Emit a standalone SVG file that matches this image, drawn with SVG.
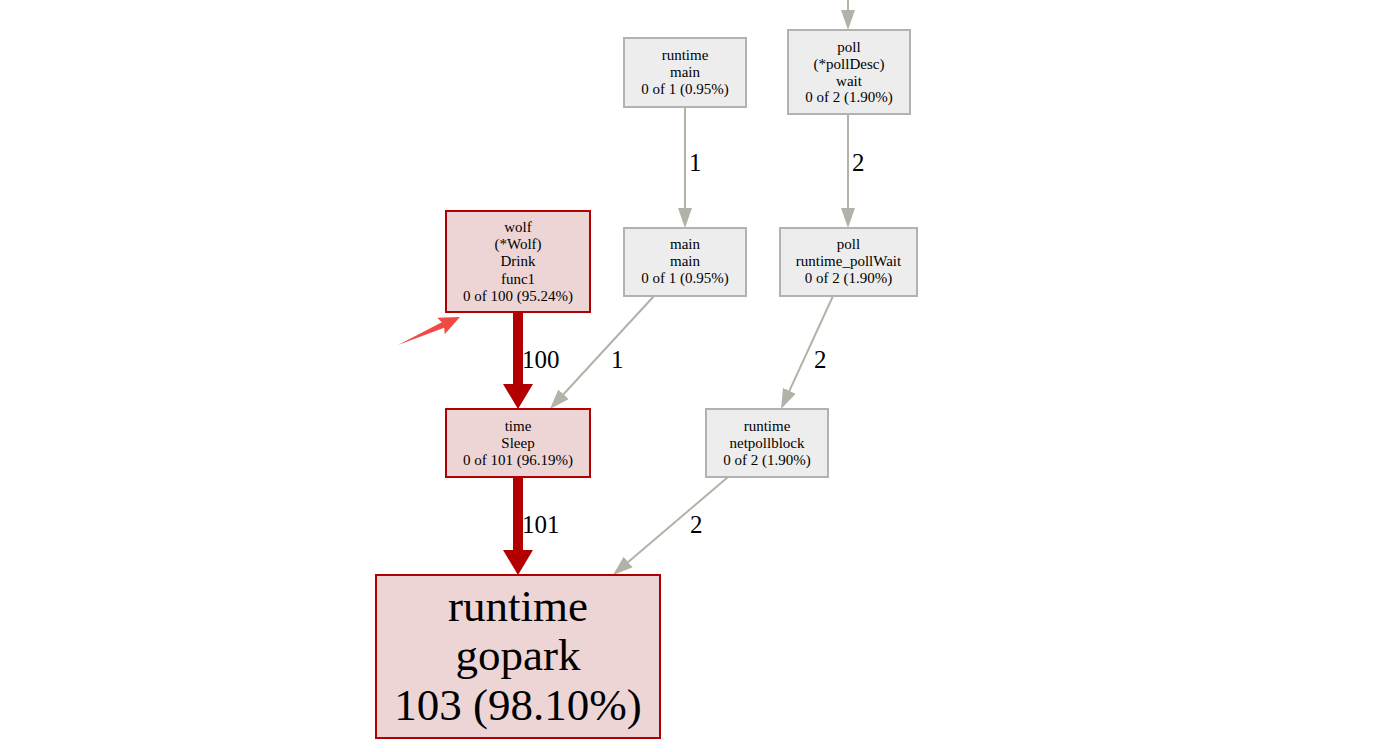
<svg xmlns="http://www.w3.org/2000/svg" width="1400" height="752" viewBox="0 0 1400 752">
<style>
text{font-family:"Liberation Serif","Times New Roman",serif;fill:#000}
.n{font-size:15px;text-anchor:middle}
.big{font-size:45px;text-anchor:middle}
.el{font-size:25px}
.gbox{fill:#ededed;stroke:#b2b2b2;stroke-width:2}
.rbox{fill:#edd5d5;stroke:#b20000;stroke-width:2}
.ge{stroke:#b2b2a8;stroke-width:2;fill:none}
.re{stroke:#b20000;stroke-width:10;fill:none}
</style>
<defs>
<marker id="ga" markerUnits="userSpaceOnUse" markerWidth="20" markerHeight="14" refX="0" refY="7" orient="auto" viewBox="0 0 20 14"><path d="M0,0 L20,7 L0,14 z" fill="#b2b2a8"/></marker>
<marker id="ra" markerUnits="userSpaceOnUse" markerWidth="25" markerHeight="30" refX="0" refY="15" orient="auto" viewBox="0 0 25 30"><path d="M0,0 L25,15 L0,30 z" fill="#b20000"/></marker>
</defs>
<rect width="1400" height="752" fill="#fff"/>
<g id="connectors">
<line class="ge" x1="848" y1="0" x2="848" y2="10" marker-end="url(#ga)"/>
<line class="ge" x1="685" y1="107" x2="685" y2="208" marker-end="url(#ga)"/>
<text class="el" x="689" y="171">1</text>
<line class="ge" x1="848" y1="114" x2="848" y2="208" marker-end="url(#ga)"/>
<text class="el" x="852" y="171">2</text>
<line class="re" x1="518" y1="312" x2="518" y2="384" marker-end="url(#ra)"/>
<text class="el" x="522" y="368">100</text>
<line class="ge" x1="654" y1="296" x2="563.5" y2="394.3" marker-end="url(#ga)"/>
<text class="el" x="611" y="368">1</text>
<line class="ge" x1="833" y1="296" x2="789.4" y2="390.8" marker-end="url(#ga)"/>
<text class="el" x="814" y="368">2</text>
<line class="re" x1="518" y1="477" x2="518" y2="550" marker-end="url(#ra)"/>
<text class="el" x="522" y="533">101</text>
<line class="ge" x1="728" y1="477" x2="628.2" y2="562" marker-end="url(#ga)"/>
<text class="el" x="690" y="533">2</text>
</g>
<g id="node-runtime-main">
<rect class="gbox" x="624" y="38" width="122" height="69"/>
<text class="n" x="685" y="60">runtime</text>
<text class="n" x="685" y="77">main</text>
<text class="n" x="685" y="94">0 of 1 (0.95%)</text>
</g>
<g id="node-poll-wait">
<rect class="gbox" x="788" y="30" width="122" height="84"/>
<text class="n" x="849" y="52">poll</text>
<text class="n" x="849" y="69">(*pollDesc)</text>
<text class="n" x="849" y="86">wait</text>
<text class="n" x="849" y="102">0 of 2 (1.90%)</text>
</g>
<g id="node-main-main">
<rect class="gbox" x="624" y="228" width="122" height="68"/>
<text class="n" x="685" y="249">main</text>
<text class="n" x="685" y="266">main</text>
<text class="n" x="685" y="283">0 of 1 (0.95%)</text>
</g>
<g id="node-poll-pollwait">
<rect class="gbox" x="780" y="228" width="137" height="68"/>
<text class="n" x="848.5" y="249">poll</text>
<text class="n" x="848.5" y="266">runtime_pollWait</text>
<text class="n" x="848.5" y="283">0 of 2 (1.90%)</text>
</g>
<g id="node-wolf">
<rect class="rbox" x="446" y="211" width="144" height="101"/>
<text class="n" x="518" y="232">wolf</text>
<text class="n" x="518" y="249">(*Wolf)</text>
<text class="n" x="518" y="266">Drink</text>
<text class="n" x="518" y="284">func1</text>
<text class="n" x="518" y="301">0 of 100 (95.24%)</text>
</g>
<g id="node-time-sleep">
<rect class="rbox" x="446" y="409" width="144" height="68"/>
<text class="n" x="518" y="431">time</text>
<text class="n" x="518" y="448">Sleep</text>
<text class="n" x="518" y="465">0 of 101 (96.19%)</text>
</g>
<g id="node-netpollblock">
<rect class="gbox" x="706" y="409" width="122" height="68"/>
<text class="n" x="767" y="431">runtime</text>
<text class="n" x="767" y="448">netpollblock</text>
<text class="n" x="767" y="465">0 of 2 (1.90%)</text>
</g>
<g id="node-gopark">
<rect class="rbox" x="376" y="575" width="284" height="163"/>
<text class="big" x="518" y="621">runtime</text>
<text class="big" x="518" y="670">gopark</text>
<text class="big" x="518" y="720">103 (98.10%)</text>
</g>
<polygon id="annotation-arrow" points="460,317 437.3,317.8 441.8,322.3 398,345 444.2,327.7 444.7,334.2" fill="#f04b43"/>
</svg>
